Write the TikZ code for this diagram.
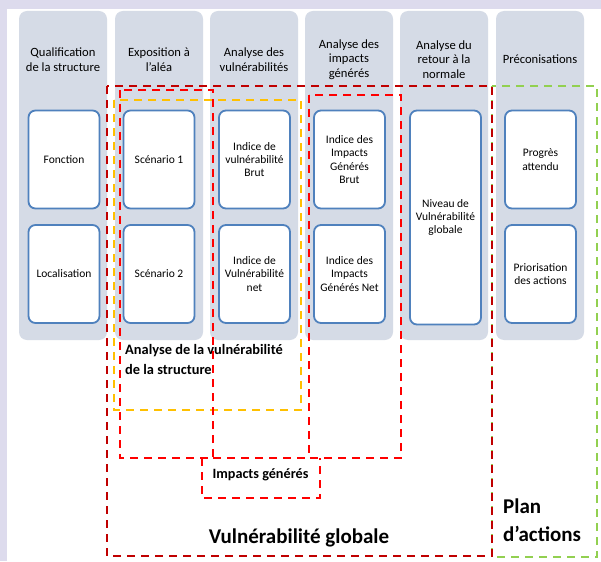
\documentclass[tikz,border=0pt]{standalone}
\usepackage{fontspec}
\setmainfont{Carlito}
\definecolor{lav}{RGB}{221,219,237}
\definecolor{colfill}{RGB}{213,219,230}
\definecolor{boxline}{RGB}{79,129,189}
\definecolor{darkred}{RGB}{192,0,0}
\definecolor{brightred}{RGB}{255,0,0}
\definecolor{amber}{RGB}{255,192,0}
\definecolor{lime}{RGB}{146,208,80}
\tikzset{
  column/.style={fill=colfill, rounded corners=8pt, minimum width=88pt,
    minimum height=329pt, inner sep=0pt},
  card/.style={draw=boxline, line width=1.8pt, fill=white, rounded corners=7pt,
    minimum width=71pt, minimum height=98pt, inner sep=0pt, align=center,
    font=\fontsize{11.5}{13.4}\selectfont},
  head/.style={align=center, inner sep=0pt, font=\fontsize{12.6}{14.6}\selectfont},
  zone/.style={line width=#1, dash pattern=on 8pt off 6pt},
  biglabel/.style={font=\fontsize{21}{28}\selectfont\bfseries, inner sep=0pt},
}
\begin{document}
\begin{tikzpicture}[x=1pt,y=-1pt]
  % page and frame
  \useasboundingbox (0,0) rectangle (601,561);
  \fill[lav] (0,0) rectangle (601,561);
  \fill[white] (7,9) rectangle (601,561);

  % process columns
  \node[column] (c1) at (63,175.5) {};
  \node[column] (c2) at (159,175.5) {};
  \node[column] (c3) at (254,175.5) {};
  \node[column] (c4) at (349,175.5) {};
  \node[column] (c5) at (444,175.5) {};
  \node[column] (c6) at (540,175.5) {};

  % column headings
  \node[head] (h1) at (63,59.5) {Qualification\\de la structure};
  \node[head] (h2) at (159,59.5) {Exposition à\\l'aléa};
  \node[head] (h3) at (254,59.5) {Analyse des\\vulnérabilités};
  \node[head] (h4) at (349,59.5) {Analyse des\\impacts\\générés};
  \node[head] (h5) at (444,59.5) {Analyse du\\retour à la\\normale};
  \node[head] (h6) at (540,59.5) {Préconisations};

  % cards
  \node[card] (fonction) at (64,159.5) {Fonction};
  \node[card] (localisation) at (64,274) {Localisation};
  \node[card] (scen1) at (159,159.5) {Scénario 1};
  \node[card] (scen2) at (159,274) {Scénario 2};
  \node[card] (ivbrut) at (254.5,159.5) {Indice de\\vulnérabilité\\Brut};
  \node[card] (ivnet) at (254.5,274) {Indice de\\Vulnérabilité\\net};
  \node[card] (igbrut) at (349.5,159.5) {Indice des\\Impacts\\Générés\\Brut};
  \node[card] (ignet) at (349.5,274) {Indice des\\Impacts\\Générés Net};
  \node[card, minimum height=214pt] (niveau) at (445.5,217.5) {Niveau de\\Vulnérabilité\\globale};
  \node[card] (progres) at (540.5,159.5) {Progrès\\attendu};
  \node[card] (priorisation) at (540.5,274) {Priorisation\\des actions};

  % zone labels
  \node[font=\fontsize{14.4}{20}\selectfont\bfseries, align=left, inner sep=0pt,
        anchor=north west] (lblstruct) at (125,344) {Analyse de la vulnérabilité\\de la structure};
  \node[font=\fontsize{14.2}{16}\selectfont\bfseries, inner sep=0pt] (lblimpacts) at (260.5,475) {Impacts générés};
  \node[biglabel] (lblglobal) at (299,538) {Vulnérabilité globale};
  \node[biglabel, align=left, anchor=west] (lblplan) at (503,520) {Plan\\d’actions};

  % dashed zones
  \draw[lime, zone=2pt] (492,86) rectangle (597,557);
  \draw[darkred, zone=2pt] (107,86) rectangle (492,556);
  \draw[amber, zone=2.6pt] (114,100) rectangle (301,410);
  \draw[brightred, zone=2.8pt] (120,90) rectangle (213,458);
  \draw[brightred, zone=2.8pt] (309,95) rectangle (401,458);
  \draw[brightred, zone=2.8pt] (213,458) -- (309,458);
  \draw[brightred, zone=2.8pt] (202,458) -- (202,498) -- (320,498) -- (320,458);
\end{tikzpicture}
\end{document}
